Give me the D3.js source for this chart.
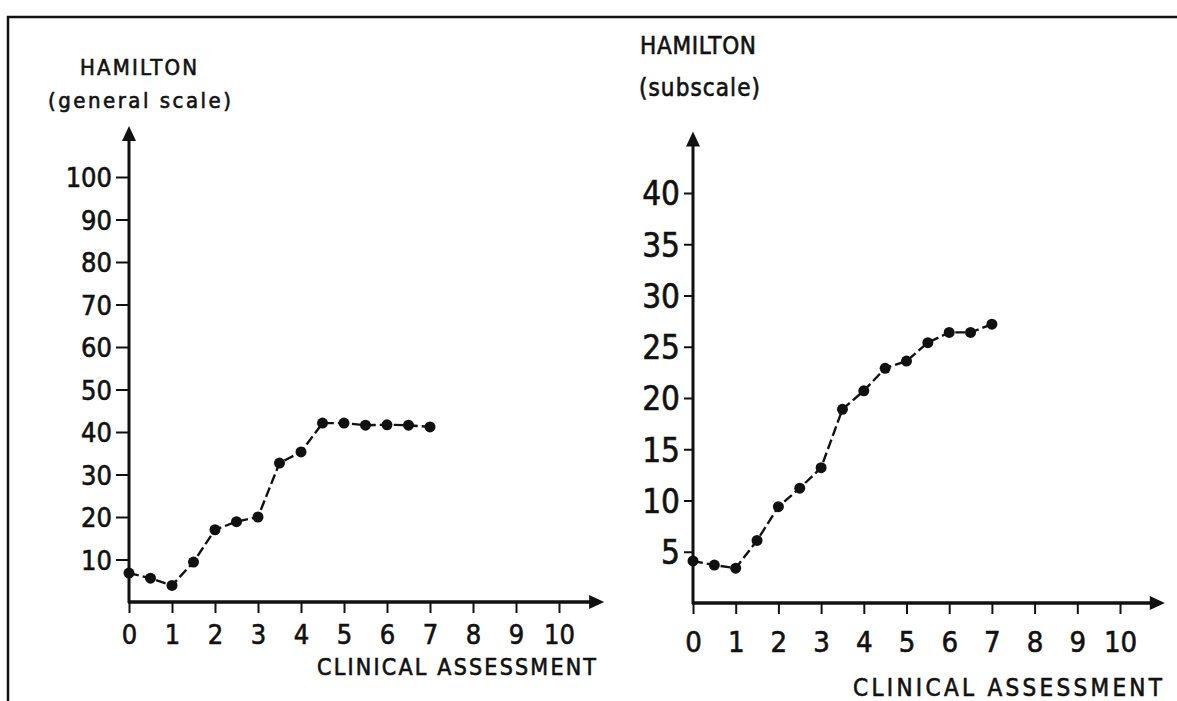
<!DOCTYPE html>
<html>
<head>
<meta charset="utf-8">
<script src="https://cdn.jsdelivr.net/npm/d3@7"></script>
<style>
  body { margin: 0; background: #fff; }
  svg { display: block; }
  text { font-family: "Liberation Sans Narrow", "DejaVu Sans Condensed", sans-serif; fill: #111; stroke: #111; stroke-width: 0.6px; }
</style>
</head>
<body>
<div id="chart"></div>
<script>
/* global d3 */
// assessment points (x) shared by both panels
var assessments = [0, 0.5, 1, 1.5, 2, 2.5, 3, 3.5, 4, 4.5, 5, 5.5, 6, 6.5, 7];
var generalScores = [6.8, 5.6, 3.9, 9.4, 17, 18.9, 20, 32.7, 35.3, 42.1, 42.1, 41.6, 41.7, 41.6, 41.2];
var subscaleScores = [4.1, 3.7, 3.4, 6.1, 9.4, 11.2, 13.2, 18.9, 20.7, 22.9, 23.6, 25.4, 26.4, 26.4, 27.2];
var xTicks = [0, 1, 2, 3, 4, 5, 6, 7, 8, 9, 10];
var generalTicks = [10, 20, 30, 40, 50, 60, 70, 80, 90, 100];
var subscaleTicks = [5, 10, 15, 20, 25, 30, 35, 40];
var yTitle = "HAMILTON";
var xTitle = "CLINICAL ASSESSMENT";

var width = 1177,
    height = 701;

var svg = d3.select("#chart")
    .append("svg")
    .attr("width", width)
    .attr("height", height);

// frame (top and left edge only)
svg.append("path")
    .attr("d", "M8,701 L8,17 L1177,17")
    .attr("fill", "none")
    .attr("stroke", "#111")
    .attr("stroke-width", 2.5);

var panels = [
    {
        values: generalScores,
        ticks: generalTicks,
        yMax: 100,
        sub: "(general scale)",
        xRange: [129, 559],
        yRange: [602, 177],
        yTip: 112,
        xTip: 11.05,
        yTickSize: 13,
        yFont: 27,
        xFont: 27,
        xLabelGap: 12,
        title: { x: 80, y: 75, len: 117, size: 22 },
        subtitle: { x: 48, y: 108, len: 183, size: 22 },
        xLabel: { x: 317, y: 675, len: 279, size: 23 }
    },
    {
        values: subscaleScores,
        ticks: subscaleTicks,
        yMax: 40,
        sub: "(subscale)",
        xRange: [693, 1120],
        yRange: [603, 193],
        yTip: 46,
        xTip: 11.05,
        yTickSize: 9,
        yFont: 33,
        xFont: 29,
        xLabelGap: 17,
        title: { x: 640, y: 54, len: 116, size: 24 },
        subtitle: { x: 639, y: 96, len: 121, size: 24 },
        xLabel: { x: 853, y: 696, len: 309, size: 24 }
    }
];

panels.forEach(function (p) {
    var x = d3.scaleLinear().domain([0, 10]).range(p.xRange),
        y = d3.scaleLinear().domain([0, p.yMax]).range(p.yRange),
        g = svg.append("g");

    // y ticks and labels
    var yAxis = g.append("g")
        .attr("transform", "translate(" + x(0) + ",0)")
        .call(d3.axisLeft(y).tickValues(p.ticks).tickSize(p.yTickSize).tickPadding(4).tickSizeOuter(0));
    yAxis.select(".domain").remove();
    yAxis.selectAll(".tick line").attr("stroke", "#111").attr("stroke-width", 2);
    yAxis.selectAll(".tick text")
        .style("font-size", p.yFont + "px")
        .attr("font-family", null)
        .attr("dy", "0.36em");

    // x ticks and labels
    var xAxis = g.append("g")
        .attr("transform", "translate(0," + y(0) + ")")
        .call(d3.axisBottom(x).tickValues(xTicks).tickSize(11).tickPadding(p.xLabelGap).tickSizeOuter(0));
    xAxis.select(".domain").remove();
    xAxis.selectAll(".tick line").attr("stroke", "#111").attr("stroke-width", 2);
    xAxis.selectAll(".tick text")
        .style("font-size", p.xFont + "px")
        .attr("font-family", null);

    // axis lines with arrow heads
    g.append("line")
        .attr("x1", x(0)).attr("y1", y(0) + 1)
        .attr("x2", x(0)).attr("y2", y(p.yTip) + 10)
        .attr("stroke", "#111").attr("stroke-width", 3);
    g.append("path")
        .attr("d", "M" + x(0) + "," + y(p.yTip) + " l-7,15 l14,0 z")
        .attr("fill", "#111");

    g.append("line")
        .attr("x1", x(0) - 1).attr("y1", y(0))
        .attr("x2", x(p.xTip) - 10).attr("y2", y(0))
        .attr("stroke", "#111").attr("stroke-width", 3.5);
    g.append("path")
        .attr("d", "M" + x(p.xTip) + "," + y(0) + " l-15,-7 l0,14 z")
        .attr("fill", "#111");

    // data line
    var pts = assessments.map(function (a, i) {
        return [a, p.values[i]];
    });
    var line = d3.line()
        .x(function (d) { return x(d[0]); })
        .y(function (d) { return y(d[1]); });

    g.append("path")
        .datum(pts)
        .attr("d", line)
        .attr("fill", "none")
        .attr("stroke", "#111")
        .attr("stroke-width", 2.4)
        .attr("stroke-dasharray", "10,4");

    g.selectAll(".dot")
        .data(pts)
        .enter()
        .append("circle")
        .attr("class", "dot")
        .attr("cx", function (d) { return x(d[0]); })
        .attr("cy", function (d) { return y(d[1]); })
        .attr("r", 5.5)
        .attr("fill", "#111");

    // titles
    [[yTitle, p.title], [p.sub, p.subtitle], [xTitle, p.xLabel]].forEach(function (t) {
        g.append("text")
            .attr("x", t[1].x)
            .attr("y", t[1].y)
            .attr("textLength", t[1].len)
            .attr("lengthAdjust", "spacing")
            .style("font-size", t[1].size + "px")
            .text(t[0]);
    });
});
</script>
</body>
</html>
